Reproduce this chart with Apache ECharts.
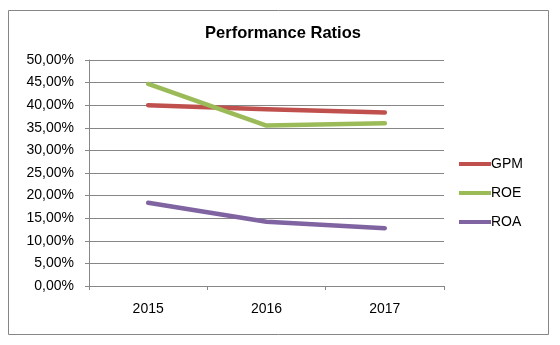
<!DOCTYPE html>
<html>
<head>
<meta charset="utf-8">
<script src="https://cdn.jsdelivr.net/npm/echarts@6/dist/echarts.min.js"></script>
<style>
  html, body { margin: 0; padding: 0; background: #fff; }
  #chart { width: 560px; height: 345px; }
</style>
</head>
<body>
<div id="chart"></div>
<script>
// Ratio data per year (percent)
const years = ['2015', '2016', '2017'];
const gpm = [40.0, 39.1, 38.4];
const roe = [44.7, 35.5, 36.0];
const roa = [18.4, 14.2, 12.8];

const seriesNames = ['GPM', 'ROE', 'ROA'];
const seriesColors = ['#C0504D', '#9BBB59', '#8064A2'];
const seriesData = [gpm, roe, roa];

const font = 'Liberation Sans, Arial, sans-serif';
const chart = echarts.init(document.getElementById('chart'), null, { renderer: 'canvas' });

chart.setOption({
  animation: false,
  backgroundColor: '#ffffff',
  title: {
    text: 'Performance Ratios',
    left: 278,
    textAlign: 'center',
    top: 20,
    textStyle: { fontFamily: font, fontSize: 16.5, fontWeight: 'bold', color: '#000' }
  },
  graphic: [{
    type: 'rect',
    shape: { x: 8.5, y: 10.5, width: 540, height: 324 },
    style: { fill: 'none', stroke: '#868686', lineWidth: 1 },
    z: -1
  }],
  legend: {
    orient: 'vertical',
    left: 459,
    top: 157,
    padding: 0,
    itemWidth: 32,
    itemHeight: 4,
    itemGap: 15,
    icon: 'rect',
    textStyle: { fontFamily: font, fontSize: 14, color: '#000', padding: [0, 0, 0, -5] },
    data: seriesNames
  },
  grid: { left: 89, right: 116, top: 60, bottom: 59, containLabel: false },
  xAxis: {
    type: 'category',
    data: years,
    boundaryGap: true,
    axisLine: { lineStyle: { color: '#868686', width: 1 } },
    axisTick: { show: true, length: 4, lineStyle: { color: '#868686' } },
    axisLabel: { fontFamily: font, fontSize: 14, color: '#000', margin: 16 },
    splitLine: { show: false }
  },
  yAxis: {
    type: 'value',
    min: 0,
    max: 50,
    interval: 5,
    axisLine: { show: true, lineStyle: { color: '#868686', width: 1 } },
    axisTick: { show: true, length: 4, lineStyle: { color: '#868686' } },
    axisLabel: {
      fontFamily: font, fontSize: 14, color: '#000', margin: 15,
      formatter: v => v.toFixed(2).replace('.', ',') + '%'
    },
    splitLine: { show: true, lineStyle: { color: '#868686', width: 1 } }
  },
  series: seriesNames.map((name, i) => ({
    name: name,
    type: 'line',
    data: seriesData[i],
    symbol: 'none',
    color: seriesColors[i],
    lineStyle: { width: 4.5, color: seriesColors[i], cap: 'round', join: 'round' }
  }))
});
</script>
</body>
</html>
